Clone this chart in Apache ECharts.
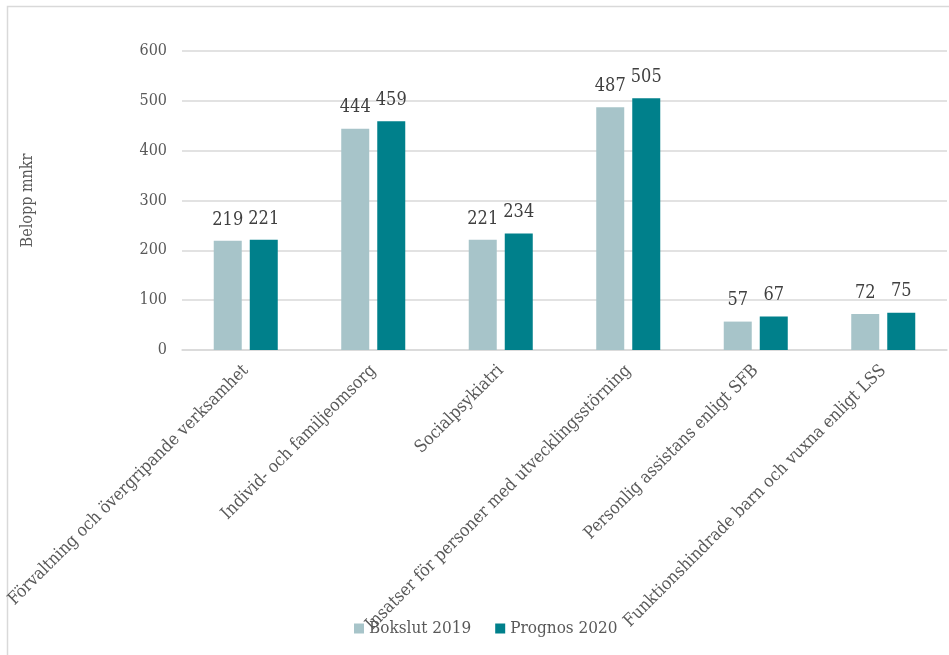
<!DOCTYPE html>
<html>
<head>
<meta charset="utf-8">
<script src="https://cdn.jsdelivr.net/npm/echarts@6/dist/echarts.min.js"></script>
<style>
html,body{margin:0;padding:0;background:#fff;}
#chart{width:949px;height:655px;}
</style>
</head>
<body>
<div id="chart"></div>
<script>
const categories = [
  "Förvaltning och övergripande verksamhet",
  "Individ- och familjeomsorg",
  "Socialpsykiatri",
  "Insatser för personer med utvecklingsstörning",
  "Personlig assistans enligt SFB",
  "Funktionshindrade barn och vuxna enligt LSS"
];
const bokslut2019 = [219, 444, 221, 487, 57, 72];
const prognos2020 = [221, 459, 234, 505, 67, 75];
const yTicks = [0, 100, 200, 300, 400, 500, 600];

const FONT = "'DejaVu Serif Condensed', 'DejaVu Serif', serif";
const chart = echarts.init(document.getElementById('chart'), null, {renderer: 'canvas'});
chart.setOption({
  animation: false,
  backgroundColor: '#ffffff',
  textStyle: {fontFamily: FONT},
  graphic: [{
    type: 'rect',
    shape: {x: 7.5, y: 6.5, width: 960, height: 660},
    style: {fill: 'none', stroke: '#d9d9d9', lineWidth: 1.5},
    silent: true
  }],
  grid: {left: 182, right: 2, top: 51, bottom: 305, containLabel: false, outerBoundsMode: 'none'},
  legend: {
    data: ['Bokslut 2019', 'Prognos 2020'],
    left: 349,
    top: 615,
    itemWidth: 10,
    itemHeight: 10,
    itemGap: 24,
    icon: 'rect',
    textStyle: {fontFamily: FONT, fontSize: 17, color: '#595959'}
  },
  xAxis: {
    type: 'category',
    data: categories,
    axisLine: {show: true, lineStyle: {color: '#d9d9d9', width: 1.5}},
    axisTick: {show: false},
    axisLabel: {
      interval: 0,
      rotate: 45,
      margin: 18,
      fontFamily: FONT,
      fontSize: 17.3,
      color: '#595959'
    }
  },
  yAxis: {
    type: 'value',
    min: yTicks[0],
    max: yTicks[yTicks.length - 1],
    interval: yTicks[1] - yTicks[0],
    name: 'Belopp mnkr',
    nameLocation: 'middle',
    nameGap: 146,
    nameTextStyle: {fontFamily: FONT, fontSize: 16, color: '#595959'},
    axisLine: {show: false},
    axisTick: {show: false},
    axisLabel: {fontFamily: FONT, fontSize: 16, color: '#595959', margin: 15},
    splitLine: {lineStyle: {color: '#d9d9d9', width: 1.5}}
  },
  series: [
    {
      name: 'Bokslut 2019',
      type: 'bar',
      data: bokslut2019,
      barWidth: 28,
      barGap: '28.6%',
      itemStyle: {color: '#a7c4c9'},
      label: {show: true, position: 'top', distance: 12, fontFamily: FONT, fontSize: 18, color: '#404040'}
    },
    {
      name: 'Prognos 2020',
      type: 'bar',
      data: prognos2020,
      barWidth: 28,
      itemStyle: {color: '#00808b'},
      label: {show: true, position: 'top', distance: 12, fontFamily: FONT, fontSize: 18, color: '#404040'}
    }
  ]
});
</script>
</body>
</html>
